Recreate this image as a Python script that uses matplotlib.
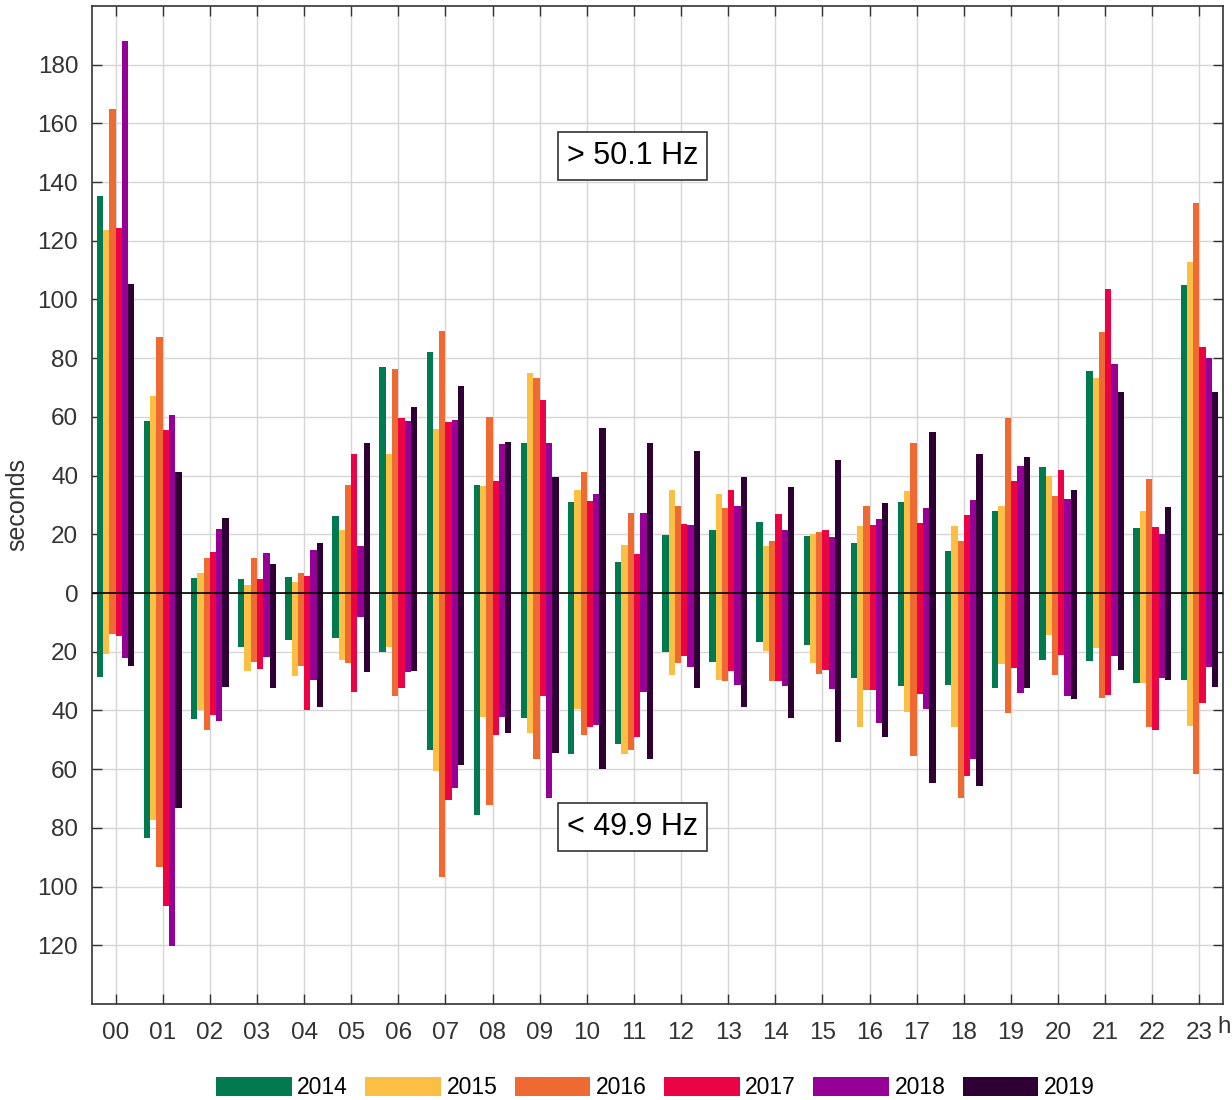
import numpy as np
import matplotlib
matplotlib.use('Agg')
import matplotlib.pyplot as plt
from matplotlib.ticker import FuncFormatter

plt.rcParams['font.family'] = ['Liberation Sans', 'DejaVu Sans']

# hours of the day and years
hours = ['00', '01', '02', '03', '04', '05', '06', '07', '08', '09', '10', '11',
         '12', '13', '14', '15', '16', '17', '18', '19', '20', '21', '22', '23']
years = ['2014', '2015', '2016', '2017', '2018', '2019']
colors = ['#017A50', '#FBBF45', '#EE6A32', '#EC0345', '#970096', '#2E0033']

# seconds above 50.1 Hz, per year
over_2014 = [135.1, 58.5, 5.1, 4.7, 5.4, 26.4, 76.9, 82.0, 36.9, 51.1, 31.0, 10.7, 19.8, 21.3, 24.2, 19.5, 17.2, 31.1, 14.4, 28.1, 43.1, 75.8, 22.0, 105.1]
over_2015 = [123.8, 67.0, 6.7, 2.7, 3.9, 21.3, 47.5, 55.8, 36.3, 75.1, 35.0, 16.5, 35.0, 33.6, 15.9, 20.0, 22.8, 34.8, 22.9, 29.8, 40.0, 73.2, 27.8, 112.7]
over_2016 = [165.0, 87.2, 11.8, 11.8, 6.7, 36.9, 76.4, 89.4, 59.8, 73.1, 41.2, 27.4, 29.7, 29.0, 17.8, 20.8, 29.6, 51.1, 17.8, 59.5, 33.2, 88.9, 38.9, 132.8]
over_2017 = [124.2, 55.4, 14.1, 4.7, 5.9, 47.5, 59.5, 58.1, 38.2, 65.9, 31.3, 13.3, 23.6, 35.0, 26.8, 21.6, 23.1, 23.7, 26.6, 38.1, 41.9, 103.6, 22.4, 83.8]
over_2018 = [188.2, 60.8, 21.8, 13.5, 14.7, 15.9, 58.7, 58.9, 50.6, 51.1, 33.8, 27.4, 23.2, 29.8, 21.4, 19.1, 25.3, 29.1, 31.6, 43.4, 32.0, 78.1, 20.1, 80.1]
over_2019 = [105.2, 41.3, 25.7, 10.0, 17.1, 51.1, 63.4, 70.5, 51.3, 39.5, 56.3, 51.1, 48.3, 39.5, 36.2, 45.2, 30.8, 54.9, 47.5, 46.3, 35.2, 68.4, 29.2, 68.4]

# seconds below 49.9 Hz, per year
under_2014 = [28.5, 83.3, 43.0, 18.3, 16.0, 15.3, 20.0, 53.4, 75.7, 42.7, 54.7, 51.5, 20.2, 23.6, 16.6, 17.6, 29.1, 31.8, 31.3, 32.4, 22.7, 23.1, 30.5, 29.7]
under_2015 = [20.8, 77.4, 39.9, 26.5, 28.4, 22.8, 18.3, 60.6, 42.2, 47.7, 39.5, 54.7, 28.0, 29.7, 19.9, 24.0, 45.5, 40.7, 45.8, 24.2, 14.2, 18.9, 30.5, 45.3]
under_2016 = [14.0, 93.2, 46.7, 23.4, 24.8, 24.0, 35.0, 96.9, 72.3, 56.4, 48.4, 53.5, 24.0, 30.1, 29.9, 27.6, 33.1, 55.5, 69.7, 40.9, 28.0, 35.8, 45.6, 61.5]
under_2017 = [14.8, 106.6, 41.5, 25.9, 39.8, 33.6, 32.2, 70.5, 48.4, 35.0, 45.5, 49.2, 21.4, 26.5, 30.1, 26.3, 33.1, 34.4, 62.5, 25.6, 21.0, 34.7, 46.7, 37.3]
under_2018 = [22.3, 120.3, 43.5, 21.7, 29.7, 8.1, 27.0, 66.5, 42.4, 69.7, 44.9, 33.6, 25.1, 31.3, 31.6, 32.7, 44.4, 39.5, 56.6, 34.1, 35.0, 21.4, 29.0, 25.3]
under_2019 = [24.8, 73.4, 31.9, 32.5, 39.0, 27.0, 26.5, 58.6, 47.8, 54.5, 59.8, 56.6, 32.2, 39.0, 42.7, 50.6, 49.0, 64.8, 65.9, 32.2, 36.1, 26.1, 29.7, 31.9]

over = [over_2014, over_2015, over_2016, over_2017, over_2018, over_2019]
under = [under_2014, under_2015, under_2016, under_2017, under_2018, under_2019]

fig = plt.figure(figsize=(12.32, 11), dpi=100)
ax = fig.add_axes([0.0747, 0.0873, 0.918, 0.9073])

x = np.arange(len(hours))
n = len(years)
bw = 0.8 / n

# grouped bars, positive up and negative down
for i in range(n):
    pos = x - 0.4 + bw * (i + 0.5)
    ax.bar(pos, over[i], width=bw, color=colors[i], label=years[i], zorder=2)
    ax.bar(pos, -np.array(under[i]), width=bw, color=colors[i], zorder=2)

ax.axhline(0, color='black', lw=1.2, zorder=3)

ax.set_xlim(-0.5, 23.5)
ax.set_ylim(-140, 200)
ax.set_xticks(x)
ax.set_xticklabels(hours)
ax.set_yticks(np.arange(-120, 181, 20))
ax.yaxis.set_major_formatter(FuncFormatter(lambda v, p: '%d' % abs(v)))

ax.grid(True, color='#d6d6d6', lw=1, zorder=0)
ax.set_axisbelow(True)
ax.tick_params(direction='in', length=7, width=1, top=True, right=True,
               labelsize=17.5, labelcolor='#333333', color='#333333')
ax.tick_params(axis='x', pad=13)
ax.tick_params(axis='y', pad=10)
for s in ax.spines.values():
    s.set_color('#333333')
    s.set_linewidth(1.2)

ax.set_ylabel('seconds', fontsize=18, color='#333333', labelpad=6)
fig.text(0.9935, 0.0665, 'h', fontsize=17.5, color='#333333', ha='center', va='center')

# frequency band labels
box = dict(boxstyle='square,pad=0.3', facecolor='white', edgecolor='#333333', lw=1.2)
ax.text(10.97, 148.8, '> 50.1 Hz', fontsize=22, ha='center', va='center', bbox=box, zorder=5)
ax.text(10.97, -79.6, '< 49.9 Hz', fontsize=22, ha='center', va='center', bbox=box, zorder=5)

fig.legend(loc='center', bbox_to_anchor=(0.532, 0.011), ncol=6, frameon=False,
           fontsize=16.5, handlelength=3.3, handleheight=0.9, handletextpad=0.25,
           columnspacing=0.75)

plt.savefig('out.png', dpi=100)
